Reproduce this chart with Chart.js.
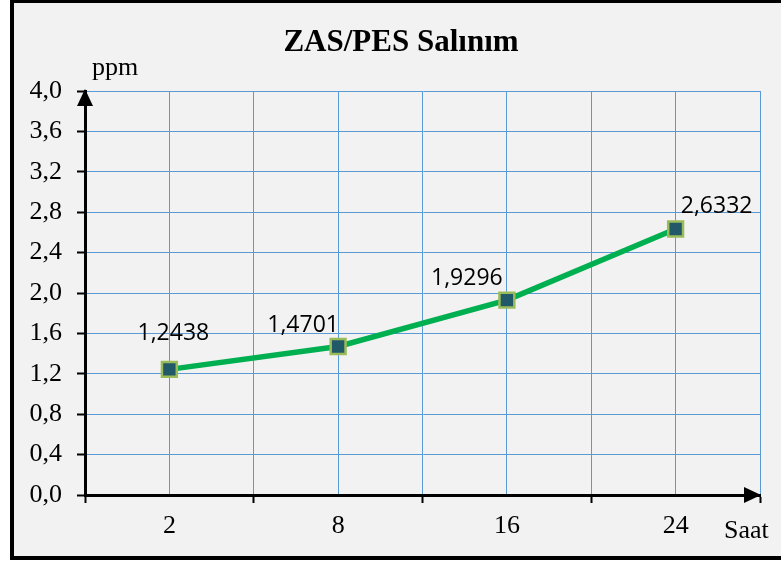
<!DOCTYPE html>
<html>
<head>
<meta charset="utf-8">
<script src="https://cdn.jsdelivr.net/npm/chart.js@4"></script>
<style>
  html, body { margin: 0; padding: 0; background: #fff; }
  #wrap { width: 781px; height: 563px; }
</style>
</head>
<body>
<div id="wrap"><canvas id="release-chart" width="781" height="563"></canvas></div>
<script>
const categories = ['2', '8', '16', '24'];
const releaseValues = [1.2438, 1.4701, 1.9296, 2.6332];
const yTickMin = 0;
const yTickMax = 4;
const yTickStep = 0.4;

const chartTitle = 'ZAS/PES Salınım';
const yUnit = 'ppm';
const xUnit = 'Saat';

const serif = '"Liberation Serif", "Times New Roman", serif';
const gridBlue = '#5b9bd5';

// label nudges around each marker (px)
const labelNudge = [[4, -36], [-35, -21], [-40, -22], [41, -23]];

const formatComma = (v, digits) => v.toFixed(digits).replace('.', ',');

const frame = {
  id: 'frame',
  beforeDraw(chart) {
    const { ctx } = chart;
    ctx.save();
    ctx.fillStyle = '#fff';
    ctx.fillRect(0, 0, chart.width, chart.height);
    ctx.fillStyle = '#000';
    ctx.fillRect(10, 0, chart.width - 10, 560);
    ctx.fillStyle = '#f2f2f2';
    ctx.fillRect(14, 3, chart.width - 14, 553);
    ctx.restore();
  },
  afterDraw(chart) {
    const { ctx, chartArea } = chart;
    const { left, right, top, bottom } = chartArea;
    ctx.save();
    ctx.fillStyle = '#000';
    // axis arrow heads
    ctx.beginPath();
    ctx.moveTo(left, top - 2);
    ctx.lineTo(left - 8, top + 15);
    ctx.lineTo(left + 8, top + 15);
    ctx.closePath();
    ctx.fill();
    ctx.beginPath();
    ctx.moveTo(right + 1, bottom);
    ctx.lineTo(right - 16, bottom - 8);
    ctx.lineTo(right - 16, bottom + 8);
    ctx.closePath();
    ctx.fill();

    ctx.font = 'bold 31px ' + serif;
    ctx.textAlign = 'center';
    ctx.textBaseline = 'alphabetic';
    ctx.fillText(chartTitle, 401, 51);

    ctx.font = '26px ' + serif;
    ctx.textAlign = 'left';
    ctx.fillText(yUnit, 92, 75);
    ctx.fillText(xUnit, 724, 538);
    ctx.restore();
  },
  afterDatasetsDraw(chart) {
    const { ctx } = chart;
    const meta = chart.getDatasetMeta(0);
    ctx.save();
    ctx.font = '23px "Open Sans", sans-serif';
    ctx.fillStyle = '#000';
    ctx.textAlign = 'center';
    ctx.textBaseline = 'middle';
    meta.data.forEach((pt, i) => {
      const [dx, dy] = labelNudge[i];
      ctx.fillText(formatComma(releaseValues[i], 4), pt.x + dx, pt.y + dy);
    });
    ctx.restore();
  },
};

new Chart(document.getElementById('release-chart'), {
  type: 'line',
  data: {
    datasets: [
      {
        label: chartTitle,
        data: releaseValues.map((v, i) => ({ x: 2 * i + 1, y: v })),
        borderColor: '#00b050',
        borderWidth: 5.5,
        tension: 0,
        pointStyle: 'rect',
        pointRadius: 10.5,
        pointHoverRadius: 10.5,
        pointBorderWidth: 2.5,
        pointBackgroundColor: '#215968',
        pointBorderColor: '#9bbb59',
      },
    ],
  },
  options: {
    responsive: false,
    animation: false,
    events: [],
    layout: { padding: { top: 91, right: 21, left: 0, bottom: 0 } },
    plugins: {
      legend: { display: false },
      title: { display: false },
      tooltip: { enabled: false },
    },
    scales: {
      x: {
        type: 'linear',
        min: 0,
        max: categories.length * 2,
        afterFit: scale => { scale.height = 68; },
        afterBuildTicks: scale => {
          scale.ticks = [];
          for (let v = 0; v <= categories.length * 2; v++) scale.ticks.push({ value: v });
        },
        ticks: {
          autoSkip: false,
          maxRotation: 0,
          padding: 8,
          color: '#000',
          font: { family: serif, size: 26 },
          callback: v => (v % 2 === 1 ? categories[(v - 1) / 2] : ''),
        },
        grid: {
          color: gridBlue,
          lineWidth: 1,
          tickLength: 8,
          tickWidth: 2,
          tickColor: ctx => (ctx.tick && ctx.tick.value % 2 === 0 ? '#000' : 'rgba(0,0,0,0)'),
        },
        border: { display: true, color: '#000', width: 3 },
      },
      y: {
        min: yTickMin,
        max: yTickMax,
        afterFit: scale => { scale.width = 85; },
        ticks: {
          stepSize: yTickStep,
          padding: 15,
          color: '#000',
          font: { family: serif, size: 26 },
          callback: v => formatComma(v, 1),
        },
        grid: {
          color: gridBlue,
          lineWidth: 1,
          tickLength: 8,
          tickWidth: 2,
          tickColor: '#000',
        },
        border: { display: true, color: '#000', width: 3 },
      },
    },
  },
  plugins: [frame],
});
</script>
</body>
</html>
